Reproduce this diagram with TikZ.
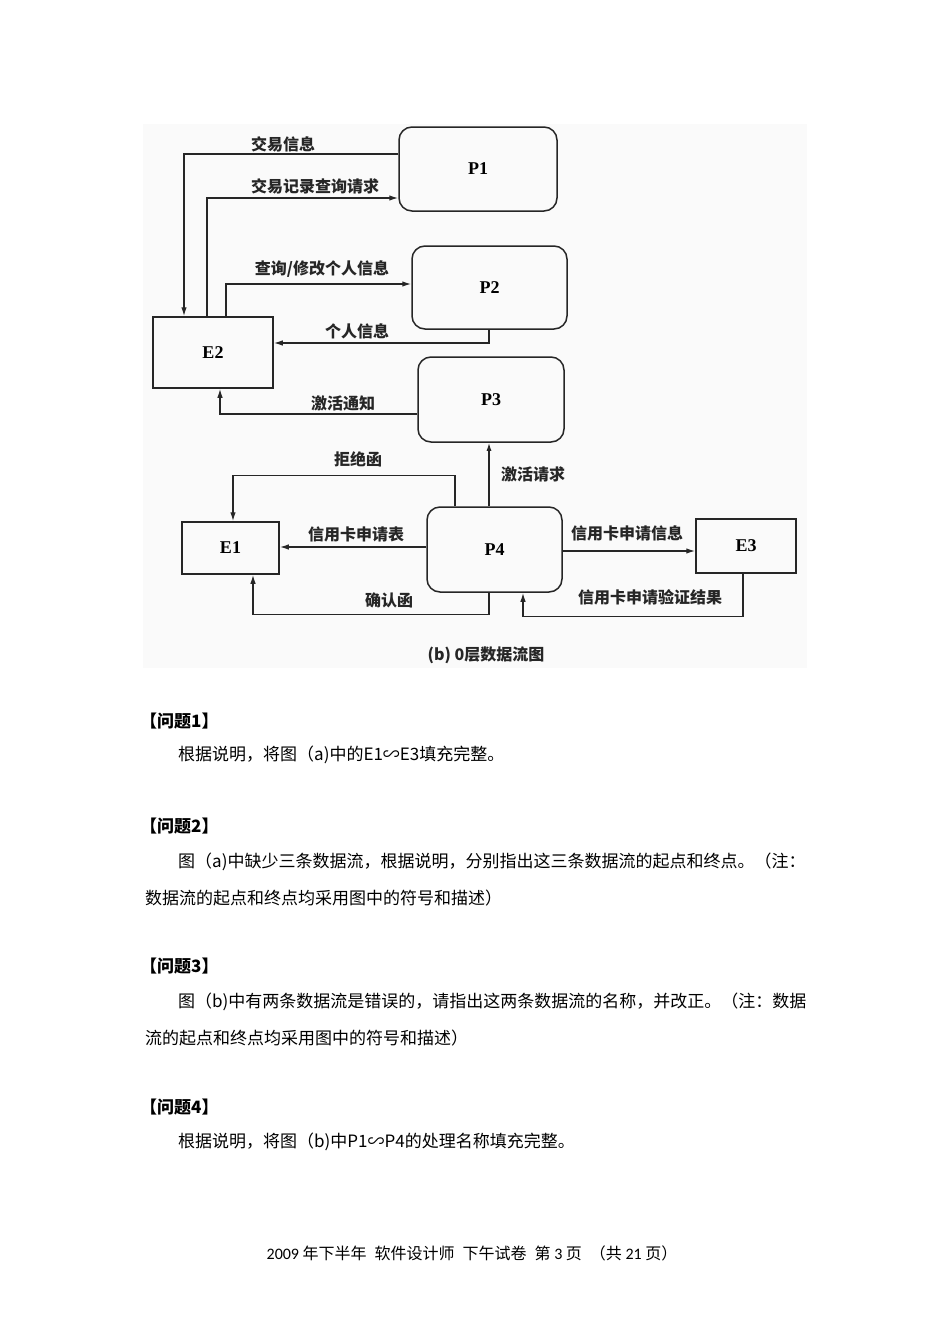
\documentclass[tikz,border=0pt]{standalone}
\usepackage{fontspec}
\setmainfont{Noto Sans CJK SC}
\newfontfamily\boxfont{Liberation Serif}
\newfontfamily\latfont{Carlito}
\usetikzlibrary{arrows.meta}
\begin{document}
\begin{tikzpicture}[x=1pt,y=-1pt,
  proc/.style={draw=black!85, line width=1.5pt, rounded corners=13pt, inner sep=0pt,
    font=\boxfont\bfseries\fontsize{18pt}{20pt}\selectfont},
  ent/.style={draw=black!85, line width=1.5pt, inner sep=0pt,
    font=\boxfont\bfseries\fontsize{18pt}{20pt}\selectfont},
  flow/.style={draw=black!85, line width=1.4pt, -{Latex[length=9pt,width=5.5pt]}},
  lbl/.style={inner sep=0pt, text=black!85, font=\bfseries\fontsize{16pt}{18pt}\selectfont},
  body/.style={inner sep=0pt, anchor=west, font=\fontsize{17pt}{20pt}\selectfont},
  head/.style={inner sep=0pt, anchor=west, font=\bfseries\fontsize{17pt}{20pt}\selectfont}]
\useasboundingbox (0,0) rectangle (950,1344);
\fill[black!2] (143,124) rectangle (807,668);

% process boxes
\node[proc, minimum width=158pt, minimum height=84pt] (P1) at (478,169) {P1};
\node[proc, minimum width=155pt, minimum height=83pt] (P2) at (489.5,287.5) {P2};
\node[proc, minimum width=146pt, minimum height=85pt] (P3) at (491,399.5) {P3};
\node[proc, minimum width=135pt, minimum height=85pt] (P4) at (494.5,549.5) {P4};
% entities
\node[ent, minimum width=120pt, minimum height=71pt] (E2) at (213,352.5) {E2};
\node[ent, minimum width=97pt, minimum height=52pt] (E1) at (230.5,548) {E1};
\node[ent, minimum width=100pt, minimum height=54pt] (E3) at (746,546) {E3};

% flows
\draw[flow] ([yshift=15pt]P1.west) -| ([xshift=-29pt]E2.north);
\draw[flow] ([xshift=-6pt]E2.north) |- ([yshift=-29pt]P1.west);
\draw[flow] ([xshift=13pt]E2.north) |- ([yshift=3.5pt]P2.west);
\draw[flow] ([xshift=-0.5pt]P2.south) |- ([yshift=9.5pt]E2.east);
\draw[flow] ([yshift=-14.5pt]P3.west) -| ([xshift=7pt]E2.south);
\coordinate (a6) at ([xshift=-5.5pt]P4.north);
\draw[draw=black!85, line width=1.4pt, -{Latex[open,length=8pt,width=5pt]}] (a6) -- (a6 |- P3.south);
\draw[flow] ([xshift=-39.5pt]P4.north) -- ++(0,31pt) -| ([xshift=2.5pt]E1.north);
\coordinate (a8) at ([yshift=2.5pt]P4.west);
\draw[flow] (a8) -- (a8 -| E1.east);
\draw[flow] ([xshift=-5.5pt]P4.south) -- ++(0,-22pt) -| ([xshift=22.5pt]E1.south);
\coordinate (a10) at ([yshift=-1.5pt]P4.east);
\draw[flow] (a10) -- (a10 -| E3.west);
\draw[flow] ([xshift=-3pt]E3.south) -- ++(0,-43pt) -| ([xshift=28.5pt]P4.south);

% flow labels
\node[lbl] (l1) at (283,144) {交易信息};
\node[lbl] (l2) at (315,186) {交易记录查询请求};
\node[lbl] (l3) at (322,269) {查询/修改个人信息};
\node[lbl] (l4) at (357,331) {个人信息};
\node[lbl] (l5) at (343,403) {激活通知};
\node[lbl] (l6) at (358,459) {拒绝函};
\node[lbl] (l7) at (533,474) {激活请求};
\node[lbl] (l8) at (356,534) {信用卡申请表};
\node[lbl] (l9) at (389,600) {确认函};
\node[lbl] (l10) at (627,533) {信用卡申请信息};
\node[lbl] (l11) at (650,597) {信用卡申请验证结果};
\node[lbl] (cap) at (486,655) {(b) 0层数据流图};

% questions
\node[head] (h1) at (140,721.5) {【问题1】};
\node[body] (t1) at (178,755) {根据说明，将图（a)中的E1∽E3填充完整。};
\node[head] (h2) at (140,826) {【问题2】};
\node[body] (t2a) at (178,861.5) {图（a)中缺少三条数据流，根据说明，分别指出这三条数据流的起点和终点。（注：};
\node[body] (t2b) at (145,898) {数据流的起点和终点均采用图中的符号和描述）};
\node[head] (h3) at (140,966.5) {【问题3】};
\node[body] (t3a) at (178,1001.5) {图（b)中有两条数据流是错误的，请指出这两条数据流的名称，并改正。（注：数据};
\node[body] (t3b) at (145,1038) {流的起点和终点均采用图中的符号和描述）};
\node[head] (h4) at (140,1107) {【问题4】};
\node[body] (t4) at (178,1141.5) {根据说明，将图（b)中P1∽P4的处理名称填充完整。};

% footer
\node[inner sep=0pt, font=\fontsize{16pt}{19pt}\selectfont] (foot) at (472,1253)
  {{\latfont 2009} 年下半年\enspace 软件设计师\enspace 下午试卷\enspace 第 {\latfont 3} 页\enspace （共 {\latfont 21} 页）};
\end{tikzpicture}
\end{document}
